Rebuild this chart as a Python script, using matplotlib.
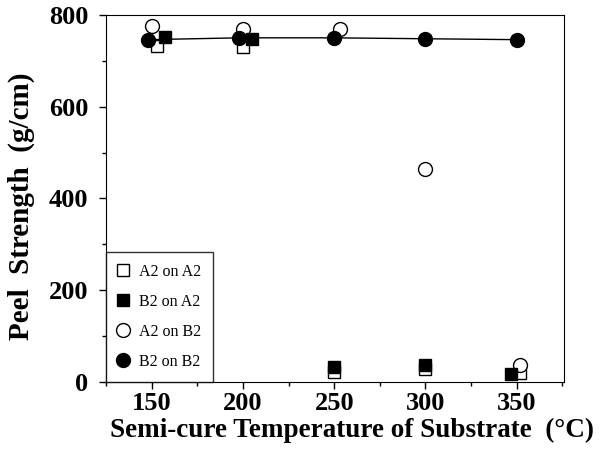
import matplotlib.pyplot as plt
from matplotlib.ticker import MultipleLocator

plt.rcParams['font.family'] = ['Liberation Serif', 'DejaVu Serif']

# semi-cure temperature (°C)
temps = [150, 200, 250, 300, 350]

# peel strength (g/cm)
a2_on_a2 = [732, 730, 22, 28, 20]
b2_on_a2 = [752, 748, 33, 38, 18]
a2_on_b2 = [775, 770, 770, 465, 38]
b2_on_b2 = [746, 750, 750, 748, 746]

# small horizontal offsets so overlapping markers stay visible
off_a2a2 = [3, 0, 0, 0, 2]
off_b2a2 = [7, 5, 0, 0, -3]
off_a2b2 = [0, 0, 3, 0, 2]
off_b2b2 = [-2, -2, 0, 0, 0]

fig, ax = plt.subplots(figsize=(6, 4.51), dpi=100)
fig.subplots_adjust(left=0.177, right=0.94, top=0.967, bottom=0.153)

ax.plot([t + o for t, o in zip(temps, off_b2b2)], b2_on_b2, color='black', lw=1, zorder=1)
ax.plot([t + o for t, o in zip(temps, off_a2a2)], a2_on_a2, 's', ms=9, mfc='white', mec='black', mew=1, ls='none', label='A2 on A2', zorder=2)
ax.plot([t + o for t, o in zip(temps, off_b2a2)], b2_on_a2, 's', ms=9, mfc='black', mec='black', mew=1, ls='none', label='B2 on A2', zorder=3)
ax.plot([t + o for t, o in zip(temps, off_a2b2)], a2_on_b2, 'o', ms=10, mfc='white', mec='black', mew=1, ls='none', label='A2 on B2', zorder=2)
ax.plot([t + o for t, o in zip(temps, off_b2b2)], b2_on_b2, 'o', ms=10, mfc='black', mec='black', mew=1, ls='none', label='B2 on B2', zorder=4)

ax.set_xlim(125, 376)
ax.set_ylim(0, 800)
ax.xaxis.set_major_locator(MultipleLocator(50))
ax.xaxis.set_minor_locator(MultipleLocator(25))
ax.yaxis.set_major_locator(MultipleLocator(200))
ax.yaxis.set_minor_locator(MultipleLocator(100))
ax.tick_params(which='major', direction='out', length=5, width=1, labelsize=19)
ax.tick_params(axis='x', pad=2)
ax.tick_params(axis='y', pad=8)
ax.tick_params(which='minor', direction='out', length=3, width=1)
for lbl in ax.get_xticklabels() + ax.get_yticklabels():
    lbl.set_fontweight('bold')

ax.set_xlabel('Semi-cure Temperature of Substrate  (°C)', fontsize=19.5, fontweight='bold')
ax.set_ylabel('Peel  Strength  (g/cm)', fontsize=21, fontweight='bold')
ax.xaxis.set_label_coords(0.537, -0.097)
ax.yaxis.set_label_coords(-0.155, 0.48)

leg = ax.legend(loc='lower left', fontsize=11.5, frameon=True, fancybox=False,
                edgecolor='black', borderaxespad=0, handletextpad=0.7,
                labelspacing=0.88, borderpad=0.75, markerscale=1.0, handlelength=0.6)
leg.get_frame().set_linewidth(1)

plt.savefig('out.png', dpi=100)
